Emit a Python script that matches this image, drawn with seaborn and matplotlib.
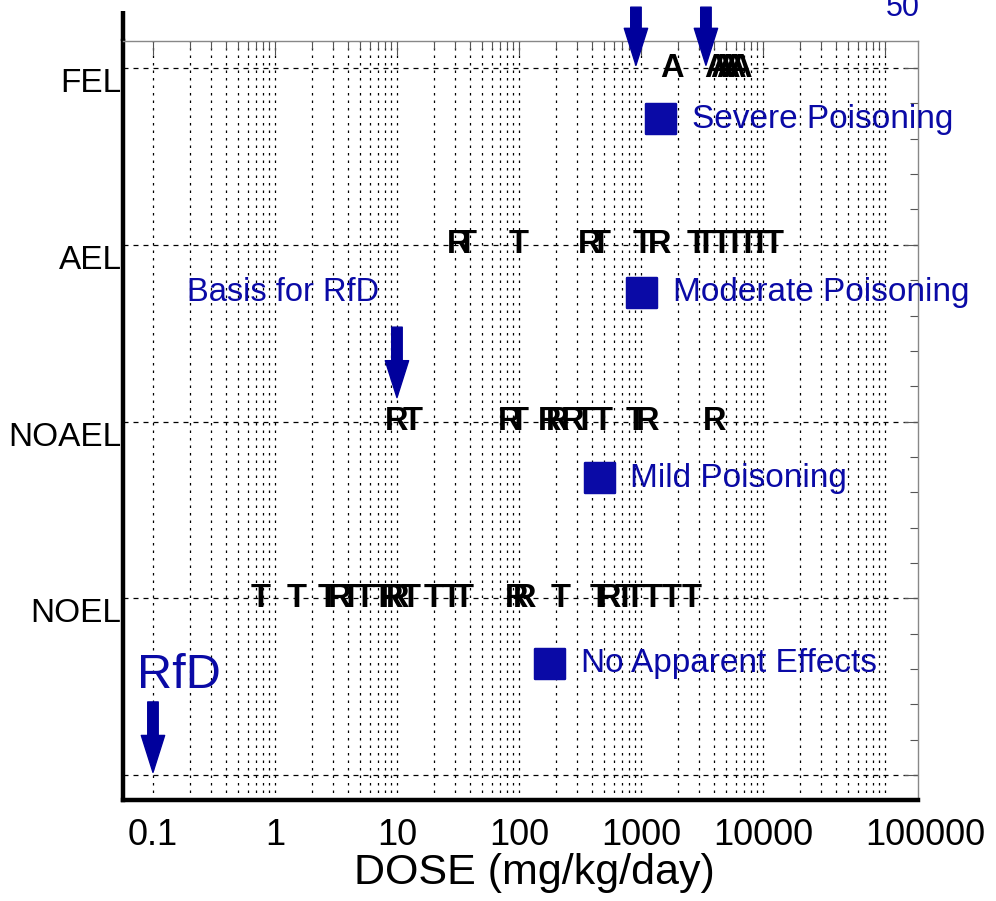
import seaborn as sns
import matplotlib.pyplot as plt
import matplotlib.transforms as mtransforms
from matplotlib.ticker import FixedLocator, NullFormatter
import pandas as pd

# effect levels (y axis)
levels = ['NOEL', 'NOAEL', 'AEL', 'FEL']

# doses (mg/kg/day) and species letter for each study, per effect level
noel_dose = [0.77, 1.5, 2.7, 3.4, 4.2, 5.4, 7.7, 9.1, 10.2, 13, 20, 28, 35,
             96, 112, 221, 461, 557, 740, 893, 1250, 1790, 2620]
noel_sp = ['T', 'T', 'T', 'R', 'T', 'T', 'T', 'R', 'R', 'T', 'T', 'T', 'T',
           'R', 'R', 'T', 'T', 'R', 'T', 'T', 'T', 'T', 'T']
noael_dose = [10, 13.5, 84, 100, 180, 209, 277, 348, 489, 910, 1140, 4040]
noael_sp = ['R', 'T', 'R', 'T', 'R', 'R', 'R', 'T', 'T', 'T', 'R', 'R']
ael_dose = [32, 37, 100, 382, 470, 1040, 1430, 2880, 3410, 4610, 5890, 7530,
            9450, 12300]
ael_sp = ['R', 'T', 'T', 'R', 'T', 'T', 'R', 'T', 'T', 'T', 'T', 'T', 'T', 'T']
fel_dose = [1790, 4120, 4610, 5160, 5780, 6470]
fel_sp = ['A', 'A', 'A', 'A', 'A', 'A']

# severity legend squares
sev_labels = ['No Apparent Effects', 'Mild Poisoning', 'Moderate Poisoning',
              'Severe Poisoning']
sev_dose = [180, 461, 1020, 1460]
sev_level = [0.63, 1.68, 2.73, 3.71]

# arrows: (dose, level at tip)
rfd_dose = 0.1
basis_dose = 10
ld50_doses = [910, 3410]

xticks = [0.1, 1, 10, 100, 1000, 10000, 100000]
xticklabels = ['0.1', '1', '10', '100', '1000', '10000', '100000']

blue = '#0A0AA6'

rows = []
for lev, doses, sps in [(1, noel_dose, noel_sp), (2, noael_dose, noael_sp),
                        (3, ael_dose, ael_sp), (4, fel_dose, fel_sp)]:
    for d, s in zip(doses, sps):
        rows.append({'dose': d, 'level': lev, 'species': s})
df = pd.DataFrame(rows)
sev = pd.DataFrame({'dose': sev_dose, 'level': sev_level, 'label': sev_labels})

sns.set_theme(style='white')
plt.rcParams['font.family'] = ['Liberation Sans', 'DejaVu Sans']

fig = plt.figure(figsize=(9.96, 9.01), dpi=100)
ax = fig.add_axes([0.1235, 0.112, 0.798, 0.8425])
ax.set_xscale('log')
ax.set_xlim(0.0568, 186000)
ax.set_ylim(-0.141, 4.153)

# grid
minor = [m * 10.0 ** e for e in range(-1, 5) for m in range(2, 10)]
ax.xaxis.set_major_locator(FixedLocator(xticks))
ax.xaxis.set_minor_locator(FixedLocator(minor))
ax.xaxis.set_minor_formatter(NullFormatter())
ax.set_xticklabels(xticklabels)
ax.set_yticks([0, 1, 2, 3, 4])
ax.set_yticklabels([''] + levels)
ax.yaxis.set_minor_locator(FixedLocator([i * 0.2 for i in range(0, 21)]))
ax.xaxis.grid(True, which='both', color='black', linestyle=(0, (2, 4)), lw=0.9)
ax.yaxis.grid(True, which='major', color='black', linestyle=(0, (4, 4)), lw=0.9)

ax.tick_params(which='both', direction='in', top=True, right=True,
               color='#555555', width=0.8)
ax.tick_params(which='major', length=10)
ax.tick_params(which='minor', length=6)
ax.tick_params(axis='x', labelsize=26, pad=13, labelcolor='black')
ax.tick_params(axis='y', labelsize=24, pad=1, labelcolor='black')
for lab in ax.get_yticklabels():
    lab.set_transform(lab.get_transform() +
                      mtransforms.ScaledTranslation(0, -0.12, fig.dpi_scale_trans))
# last x label sits right of its tick so it clears the 10000 label
last = ax.get_xticklabels()[-1]
last.set_transform(last.get_transform() +
                   mtransforms.ScaledTranslation(0.4, 0, fig.dpi_scale_trans))

for side in ['top', 'right']:
    ax.spines[side].set_color('#888888')
    ax.spines[side].set_linewidth(1)
for side in ['left', 'bottom']:
    ax.spines[side].set_color('black')
    ax.spines[side].set_linewidth(3.2)
ax.plot([0, 0], [1, 1.04], transform=ax.transAxes, color='black', lw=3.2,
        clip_on=False, solid_capstyle='butt')

# species letters
for _, r in df.iterrows():
    ax.text(r['dose'], r['level'], r['species'], ha='center', va='center',
            fontsize=23.5, fontweight='bold', color='black')

# severity squares and labels
sns.scatterplot(data=sev, x='dose', y='level', marker='s', s=480,
                color=blue, edgecolor=blue, ax=ax, legend=False, zorder=5)
for _, r in sev.iterrows():
    ax.annotate(r['label'], (r['dose'], r['level']), xytext=(22, 0),
                textcoords='offset points', ha='left', va='center',
                fontsize=24, color=blue)

# arrows
arrow_kw = dict(arrowstyle='simple,head_length=0.95,head_width=0.6,tail_width=0.27',
                color='#00009C', mutation_scale=28)
ax.annotate('', xy=(rfd_dose, 0), xytext=(rfd_dose, 0.43), arrowprops=arrow_kw)
ax.annotate('', xy=(basis_dose, 2.12), xytext=(basis_dose, 2.55),
            arrowprops=arrow_kw)
for d in ld50_doses:
    ax.annotate('', xy=(d, 4.0), xytext=(d, 4.36), arrowprops=arrow_kw,
                annotation_clip=False)

ax.text(0.074, 0.565, 'RfD', ha='left', va='center', fontsize=35, color=blue)
ax.text(0.19, 2.73, 'Basis for RfD', ha='left', va='center', fontsize=23.5,
        color=blue)
fig.text(0.889, 0.982, '50', ha='left', va='baseline', fontsize=22, color=blue)

ax.set_xlabel('DOSE (mg/kg/day)', fontsize=31, labelpad=0, color='black')
ax.xaxis.set_label_coords(0.518, -0.07)
ax.xaxis.label.set_verticalalignment('top')
ax.set_ylabel('')

fig.savefig('out.png', dpi=100)
